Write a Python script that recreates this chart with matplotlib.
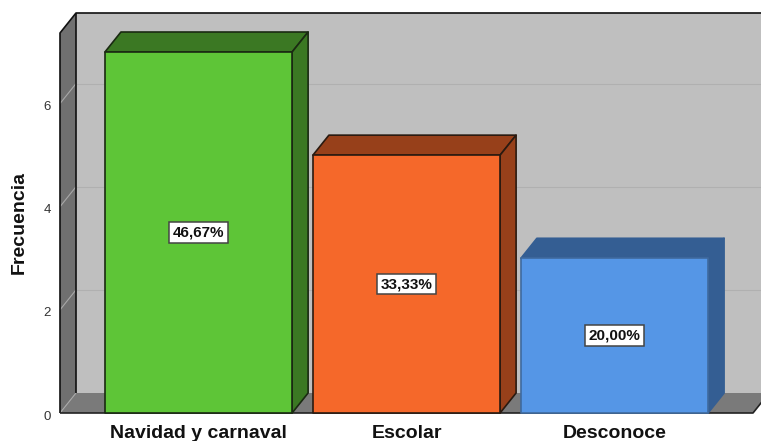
import matplotlib
matplotlib.use("Agg")
import matplotlib.pyplot as plt
from matplotlib.patches import Polygon
from matplotlib.transforms import ScaledTranslation

categories = ["Navidad y carnaval", "Escolar", "Desconoce"]
counts = [7, 5, 3]
y_ticks = [0, 2, 4, 6]
front_colors = ["#5EC537", "#F5682A", "#5596E6"]
side_colors = ["#3B7823", "#97401A", "#345E93"]
edge_colors = ["#1A2A12", "#2A1A10", "#3F6A9E"]
side_edge_colors = ["#1A2A12", "#2A1A10", "#345E93"]

W, H = 761, 441
fig = plt.figure(figsize=(W / 100, H / 100), dpi=100, facecolor="white")
# The axes box is the front plane of the 3D chart frame
left, right, top, bottom = 60, 753, 33, 413
ax = fig.add_axes([left / W, 1 - bottom / H, (right - left) / W, (bottom - top) / H])
ax.set_xlim(-0.666, 2.666)
ax.set_ylim(0, (bottom - top) / 51.57)
ax.patch.set_visible(False)
for s in ax.spines.values():
    s.set_visible(False)

x0, x1 = ax.get_xlim()
y0, y1 = ax.get_ylim()
dx = 16 / 208          # depth offset, x direction
dy = 20 / 51.57        # depth offset, y direction
far = x1 + 0.2         # walls run off the right side of the canvas


def face(points, color, edge="none", lw=1.2, z=1):
    ax.add_patch(Polygon(points, closed=True, facecolor=color, edgecolor=edge,
                         linewidth=lw, clip_on=False, zorder=z, joinstyle="round"))


def line(xs, ys, color, lw=1.0, z=2):
    ax.plot(xs, ys, color=color, lw=lw, clip_on=False, zorder=z, solid_capstyle="butt")


# Back wall, side wall and floor
face([(x0 + dx, y0 + dy), (far, y0 + dy), (far, y1 + dy), (x0 + dx, y1 + dy)], "#BFBFBF")
face([(x0, y0), (x0 + dx, y0 + dy), (x0 + dx, y1 + dy), (x0, y1)], "#707070")
face([(x0, y0), (x1, y0), (x1 + dx, y0 + dy), (x0 + dx, y0 + dy)], "#7A7A7A")

# Gridlines on the back wall, with their slanted continuation on the side wall
for t in y_ticks:
    if t > 0:
        line([x0 + dx, far], [t + dy, t + dy], "#B0B0B0", 0.8)
    line([x0, x0 + dx], [t, t + dy], "#A8A8A8", 0.8)

# Frame outline
line([x0, x0, x0 + dx, far], [y0, y1, y1 + dy, y1 + dy], "#111111", 1.2, 3)
line([x0 + dx, x0 + dx], [y0 + dy, y1 + dy], "#111111", 1.2, 3)
line([x0, x1, x1 + dx], [y0, y0, y0 + dy], "#222222", 1.2, 3)

# Extruded bars
width = 0.9
total = sum(counts)
for i, n in enumerate(counts):
    a, b = i - width / 2, i + width / 2
    face([(a, n), (a + dx, n + dy), (b + dx, n + dy), (b, n)], side_colors[i], side_edge_colors[i], z=4)
    face([(b, 0), (b + dx, dy), (b + dx, n + dy), (b, n)], side_colors[i], side_edge_colors[i], z=4)
    face([(a, 0), (b, 0), (b, n), (a, n)], front_colors[i], edge_colors[i], z=5)
    pct = f"{n / total * 100:.2f}%".replace(".", ",")
    ax.text(i, n / 2, pct, ha="center", va="center", zorder=6, color="#111111",
            fontsize=11, fontweight="bold", family="Liberation Sans",
            bbox=dict(boxstyle="square,pad=0.22", facecolor="white", edgecolor="#444444", linewidth=1.1))

# Axis ticks and labels
ax.set_xticks(range(len(categories)), categories)
ax.set_yticks(y_ticks)
ax.tick_params(axis="both", length=0)
ax.tick_params(axis="x", pad=9)
ax.tick_params(axis="y", pad=6.5, labelsize=9.5)
for lab in ax.get_xticklabels():
    lab.set(fontsize=14, fontweight="bold", family="Liberation Sans", color="#111111")
for lab in ax.get_yticklabels():
    lab.set(family="Liberation Sans", color="#333333")
# Tick numbers sit slightly below their gridline ends
for t in ax.yaxis.get_major_ticks():
    t.label1.set_transform(t.label1.get_transform() + ScaledTranslation(0, -2 / 100, fig.dpi_scale_trans))
ax.set_ylabel("Frecuencia", fontsize=14, fontweight="bold", family="Liberation Sans", color="#111111")
ax.yaxis.set_label_coords((28 - left) / (right - left), (bottom - 222) / (bottom - top))

fig.savefig("out.png", dpi=100)
